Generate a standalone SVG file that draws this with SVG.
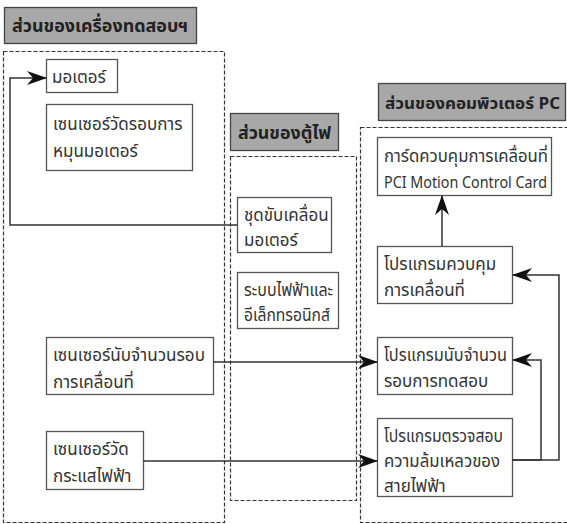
<svg xmlns="http://www.w3.org/2000/svg" width="567" height="524" viewBox="0 0 567 524">
<style>
.t{font-family:"Noto Sans Thai","Noto Sans","DejaVu Sans",sans-serif;font-size:17px;fill:#333}
.h{font-family:"Noto Sans Thai","Noto Sans","DejaVu Sans",sans-serif;font-size:18px;font-weight:bold;fill:#222}
.box{fill:#fff;stroke:#555;stroke-width:1.3}
.title{fill:#a8a8a8;stroke:#444;stroke-width:1.3}
.dash{fill:none;stroke:#333;stroke-width:1.2;stroke-dasharray:4,2}
.c{fill:none;stroke:#333;stroke-width:1.5}
</style>
<defs>
<marker id="ah" markerWidth="20" markerHeight="14" refX="19" refY="7" orient="auto" markerUnits="userSpaceOnUse">
<path d="M0,0 L20,7 L0,14 L6,7 z" fill="#111"/>
</marker>
</defs>
<rect width="567" height="524" fill="#fff"/>
<g id="sections">
<rect class="dash" x="3.5" y="51.5" width="221" height="471"/>
<rect class="dash" x="230.5" y="156.5" width="126" height="344"/>
<rect class="dash" x="360.5" y="127.5" width="215" height="395"/>
</g>
<g id="title-tester"><rect class="title" x="4.5" y="7.5" width="192" height="36"/><text class="h" x="12" y="32" textLength="176" lengthAdjust="spacingAndGlyphs">ส่วนของเครื่องทดสอบฯ</text></g>
<g id="title-cabinet"><rect class="title" x="230.5" y="113.5" width="108" height="37"/><text class="h" x="238" y="139" textLength="93" lengthAdjust="spacingAndGlyphs">ส่วนของตู้ไฟ</text></g>
<g id="title-pc"><rect class="title" x="378.5" y="83.5" width="187" height="37"/><text class="h" x="385" y="109" style="font-size:16.5px" textLength="175" lengthAdjust="spacingAndGlyphs">ส่วนของคอมพิวเตอร์ PC</text></g>
<g id="motor"><rect class="box" x="46.5" y="59.5" width="71" height="33"/><text class="t" x="52" y="83">มอเตอร์</text></g>
<g id="rot-sensor"><rect class="box" x="46.5" y="104.5" width="146" height="66"/><text class="t" x="53" y="130">เซนเซอร์วัดรอบการ</text><text class="t" x="53" y="157">หมุนมอเตอร์</text></g>
<g id="count-sensor"><rect class="box" x="46.5" y="337.5" width="167" height="57"/><text class="t" x="53" y="361" textLength="152" lengthAdjust="spacingAndGlyphs">เซนเซอร์นับจำนวนรอบ</text><text class="t" x="53" y="388">การเคลื่อนที่</text></g>
<g id="current-sensor"><rect class="box" x="46.5" y="431.5" width="97" height="58"/><text class="t" x="53" y="455">เซนเซอร์วัด</text><text class="t" x="53" y="482">กระแสไฟฟ้า</text></g>
<g id="driver"><rect class="box" x="237.5" y="197.5" width="94" height="55"/><text class="t" x="244" y="221">ชุดขับเคลื่อน</text><text class="t" x="244" y="246">มอเตอร์</text></g>
<g id="electric"><rect class="box" x="237.5" y="272.5" width="101" height="56"/><text class="t" x="244" y="296" textLength="89" lengthAdjust="spacingAndGlyphs">ระบบไฟฟ้าและ</text><text class="t" x="244" y="321" textLength="86" lengthAdjust="spacingAndGlyphs">อีเล็กทรอนิกส์</text></g>
<g id="card"><rect class="box" x="377.5" y="137.5" width="174" height="58"/><text class="t" x="384" y="162" textLength="164" lengthAdjust="spacingAndGlyphs">การ์ดควบคุมการเคลื่อนที่</text><text class="t" x="384" y="188" style="font-size:16px" textLength="163" lengthAdjust="spacingAndGlyphs">PCI Motion Control Card</text></g>
<g id="ctrl-prog"><rect class="box" x="377.5" y="246.5" width="135" height="57"/><text class="t" x="384" y="270">โปรแกรมควบคุม</text><text class="t" x="384" y="296">การเคลื่อนที่</text></g>
<g id="count-prog"><rect class="box" x="377.5" y="337.5" width="135" height="57"/><text class="t" x="384" y="361" textLength="123" lengthAdjust="spacingAndGlyphs">โปรแกรมนับจำนวน</text><text class="t" x="384" y="387">รอบการทดสอบ</text></g>
<g id="check-prog"><rect class="box" x="377.5" y="418.5" width="135" height="78"/><text class="t" x="384" y="442" textLength="119" lengthAdjust="spacingAndGlyphs">โปรแกรมตรวจสอบ</text><text class="t" x="384" y="467" textLength="116" lengthAdjust="spacingAndGlyphs">ความล้มเหลวของ</text><text class="t" x="384" y="492">สายไฟฟ้า</text></g>
<g id="connectors">
<polyline class="c" points="237,225 10,225 10,78 46,78" marker-end="url(#ah)"/>
<line class="c" x1="213" y1="362" x2="377" y2="362" marker-end="url(#ah)"/>
<line class="c" x1="143" y1="461" x2="377" y2="461" marker-end="url(#ah)"/>
<polyline class="c" points="512,460 559,460 559,275 513,275" marker-end="url(#ah)"/>
<polyline class="c" points="512,460 541,460 541,360 513,360" marker-end="url(#ah)"/>
<line class="c" x1="442" y1="246" x2="442" y2="196" marker-end="url(#ah)"/>
</g>
</svg>
